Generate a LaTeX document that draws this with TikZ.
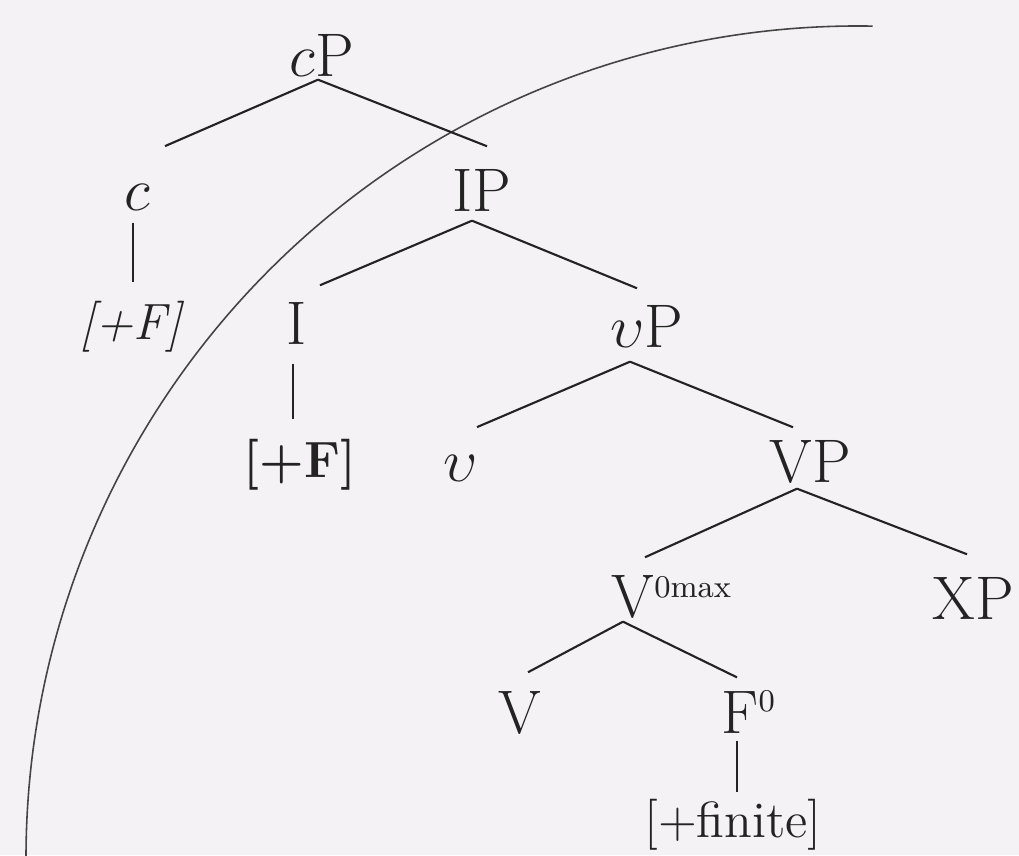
\documentclass[tikz,border=0pt]{standalone}
\usepackage{fontspec}
\usepackage{amsmath}
\usepackage{xcolor}
\usepackage{tikz}
\usetikzlibrary{calc}

\definecolor{paper}{RGB}{244,242,244}
\definecolor{ink}{RGB}{35,35,35}

\begin{document}
\begin{tikzpicture}[
                x=0.01cm, y=0.01cm,
                cat/.style={anchor=base, inner sep=0pt, text=ink, font=\fontsize{17.5}{21}\selectfont},
                feat/.style={anchor=base, inner sep=0pt, text=ink, font=\fontsize{14.5}{17}\selectfont},
                branch/.style={draw=ink, line width=0.6pt},
                phase/.style={draw=ink!85, line width=0.45pt}
            ]
            \fill[paper] (0,0) rectangle (1019,855);
            \useasboundingbox (0,0) rectangle (1019,855);
            % phase boundary
            \draw[phase] (858,-3) ++(89:832) arc[start angle=89, end angle=180, radius=832];
            % tree
            \node[cat] (cP) at (322,778) {$c$P};
            \node[cat] (c) at (137,644) {$c$};
            \node[cat] (IP) at (482,643) {IP};
            \node[feat] (cF) at (132,515) {\textit{[+F]}};
            \node[cat] (I) at (297,510) {I};
            \node[cat] (vP) at (647,507) {$\upsilon$P};
            \node[feat] (IF) at (300,377) {\textbf{[+F]}};
            \node[cat] (v) at (461,373) {$\upsilon$};
            \node[cat] (VP) at (810,372) {VP};
            \node[cat] (Vmax) at (633,237) {V\rlap{\smash{\raisebox{5.8pt}{\fontsize{9}{11}\selectfont 0max}}}};
            \node[cat] (XP) at (973,235) {XP};
            \node[cat] (V) at (520,122) {V};
            \node[cat] (F) at (740,122) {F\rlap{\smash{\raisebox{6.2pt}{\fontsize{9}{11}\selectfont 0}}}};
            \node[feat] (fin) at (733,18) {[+finite]};
            \draw[branch] ($(cP.south)+(-4,-2)$) -- ($(c.north)+(28,38)$);
            \draw[branch] ($(cP.south)+(-4,-2)$) -- ($(IP.north)+(5,23)$);
            \draw[branch] ($(c.south)+(-4,-11)$) -- ($(cF.north)+(1,19)$);
            \draw[branch] ($(IP.south)+(-10,-8)$) -- ($(I.north)+(23,17)$);
            \draw[branch] ($(IP.south)+(-10,-8)$) -- ($(vP.north)+(-10,17)$);
            \draw[branch] ($(I.south)+(-4,-18)$) -- ($(IF.north)+(-7,20)$);
            \draw[branch] ($(vP.south)+(-17,-13)$) -- ($(v.north)+(16,28)$);
            \draw[branch] ($(vP.south)+(-17,-13)$) -- ($(VP.north)+(-17,13)$);
            \draw[branch] ($(VP.south)+(-13,-4)$) -- ($(Vmax.north)+(12,18)$);
            \draw[branch] ($(VP.south)+(-13,-4)$) -- ($(XP.north)+(-6,23)$);
            \draw[branch] ($(Vmax.south)+(-10,-2)$) -- ($(V.north)+(8,18)$);
            \draw[branch] ($(Vmax.south)+(-10,-2)$) -- ($(F.north)+(-3,13)$);
            \draw[branch] ($(F.south)+(-3,-7)$) -- ($(fin.north)+(4,6)$);
        \end{tikzpicture}
\end{document}
